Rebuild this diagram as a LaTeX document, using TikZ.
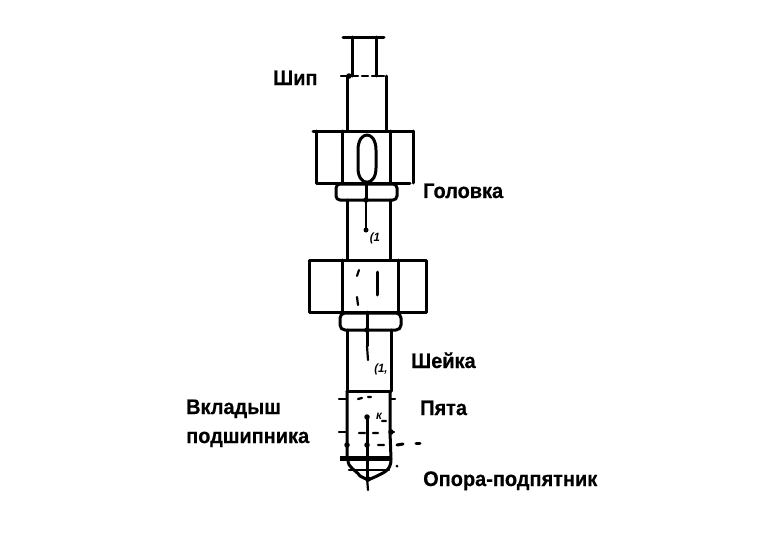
\documentclass[tikz,border=0pt]{standalone}
\usepackage{fontspec}
\setmainfont[FakeStretch=0.95,BoldFeatures={FakeBold=0.5}]{Liberation Sans}
\begin{document}
\begin{tikzpicture}[x=1pt,y=-1pt,
  part/.style={draw=black,line width=3pt,line join=round,line cap=round},
  thin part/.style={draw=black,line width=2.2pt,line cap=round},
  dot/.style={fill=black,circle,inner sep=0pt,minimum size=5.5pt},
  lab/.style={font=\bfseries\fontsize{21}{23}\selectfont,anchor=base west,inner sep=0pt,align=left},
  mini/.style={font=\bfseries\itshape\fontsize{12}{13}\selectfont,inner sep=0pt}]
\useasboundingbox (0,0) rectangle (764,552);
\fill[white] (0,0) rectangle (764,552);
% top journal
\draw[part] (343,37) -- (384,37);
\draw[part] (352,37) -- (352,76) (376,37) -- (376,76);
\draw[thin part] (341,76) -- (358,76) (362,76) -- (368,76) (372,76) -- (384,76);
\draw[part] (347,76) -- (347,130) (386,76) -- (386,130);
\node[dot] (d1) at (349,76) {};
% upper nut
\draw[part] (313,131) -- (413,131);
\draw[part] (316,131) -- (316,183) -- (410,183) (413,131) -- (413,183);
\draw[part] (342,131) -- (342,183) (390,131) -- (390,183);
\draw[part] (358,150) .. controls (358,130) and (376,130) .. (376,150) -- (376,168) .. controls (376,187) and (358,187) .. (358,168) -- cycle;
% upper collar
\draw[part,rounded corners=4pt] (336,184) rectangle (397,200);
\draw[part] (366,183) -- (366,200);
\draw[thin part] (366,200) -- (366,230);
\node[dot] (d2) at (366,200) {};
\node[dot,minimum size=5pt] (d3) at (366,230) {};
\node[mini] (n1) at (375,238) {(1};
% shaft
\draw[part] (347,200) -- (347,260) (390,200) -- (390,260);
% lower nut
\draw[part] (309,260) rectangle (426,312);
\draw[part] (342,260) -- (342,312) (398,260) -- (398,312);
\draw[thin part] (359,270) -- (357,276) (357,297) -- (358,305);
\draw[part] (377,272) -- (377,295);
\draw[part,rounded corners=5pt] (340,313) rectangle (401,330);
\draw[part] (367,312) -- (367,346);
\draw[thin part] (367,346) -- (368,360);
\node[dot] (d4) at (367,330) {};
\node[mini] (n2) at (381,369) {(1,};
% lower shaft
\draw[part] (347,330) -- (347,391) (391,330) -- (391,391);
\draw[part] (347,391) -- (391,391);
% bearing section
\draw[part] (347,391) -- (347,459) (390,391) -- (390,432) (390,432) -- (391,459);
\draw[thin part] (339,399) -- (347,399) (391,399) -- (395,399);
\draw[thin part] (339,432) -- (347,432) (391,432) -- (394,432);
\draw[thin part] (358,399) -- (362,398) (368,397) -- (371,397) (359,433) -- (365,433) (373,433) -- (378,433) (378,445) -- (384,445) (382,421) -- (386,421);
\node[dot] (d5) at (347,445) {};
\node[dot] (d6) at (367,417) {};
\node[dot] (d7) at (367,445) {};
\node[dot] (d8) at (391,432) {};
\draw[part] (367,417) -- (367,478);
\draw[thin part] (367,478) -- (368,490);
\node[mini] (n3) at (379,416) {к};
\draw[part] (397,445) -- (403,444);
\draw[part] (416,443) -- (420,443);
% bottom support
\draw[line width=5pt] (340,458) -- (390,458);
\draw[part] (348,460) .. controls (348,468) and (355,469) .. (360,476) -- (368,480) -- (377,476) .. controls (385,472) and (391,470) .. (391,459);
\draw[thin part] (349,470) -- (389,470);
\node[dot] (d9) at (368,479) {};
\fill (397,466) circle (1.5pt);
% labels
\node[lab] (a) at (273,85) {Шип};
\node[lab] (b) at (423,198) {Головка};
\node[lab] (c) at (411,368) {Шейка};
\node[lab] (d) at (420,415) {Пята};
\node[lab] (e) at (186,414) {Вкладыш};
\node[lab] (f) at (186,443) {подшипника};
\node[lab] (g) at (423,486) {Опора-подпятник};
\end{tikzpicture}
\end{document}
